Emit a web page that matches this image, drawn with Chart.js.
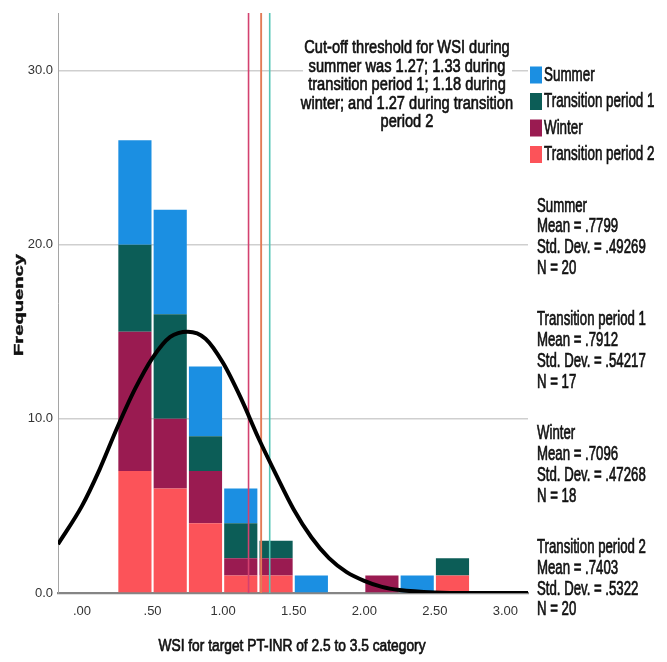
<!DOCTYPE html>
<html>
<head>
<meta charset="utf-8">
<title>WSI histogram</title>
<script src="https://cdn.jsdelivr.net/npm/chart.js@4"></script>
<style>
  html, body { margin: 0; padding: 0; background: #fff; }
  #wrap { width: 667px; height: 662px; }
</style>
</head>
<body>
<div id="wrap"><canvas id="chart" width="667" height="662"></canvas></div>
<script>
// ---- data ----
const binCenters = [0.375, 0.625, 0.875, 1.125, 1.375, 1.625, 1.875, 2.125, 2.375, 2.625];
const summerCounts = [6, 6, 4, 2, 0, 1, 0, 0, 1, 0];
const transition1Counts = [5, 6, 2, 2, 1, 0, 0, 0, 0, 1];
const winterCounts = [8, 4, 3, 1, 1, 0, 0, 1, 0, 0];
const transition2Counts = [7, 6, 4, 1, 1, 0, 0, 0, 0, 1];

const curveX = [-0.17, 0.0, 0.125, 0.25, 0.375, 0.5, 0.625, 0.75, 0.875, 1.0, 1.125, 1.25,
  1.375, 1.5, 1.625, 1.75, 1.875, 2.0, 2.125, 2.25, 2.5, 2.75, 3.0, 3.16];
const curveY = [2.8, 5.0, 7.1, 9.5, 11.7, 13.5, 14.7, 15.0, 14.6, 13.2, 11.2, 8.9,
  6.8, 4.8, 3.2, 2.0, 1.2, 0.7, 0.35, 0.17, 0.03, 0.0, 0.0, 0.0];

const groupNames = ['Summer', 'Transition period 1', 'Winter', 'Transition period 2'];
const groupMeans = [0.7799, 0.7912, 0.7096, 0.7403];
const groupStdDevs = [0.49269, 0.54217, 0.47268, 0.5322];
const groupNs = [20, 17, 18, 20];
const cutoffValues = [1.27, 1.33, 1.18, 1.27];

const yTickValues = [0, 10, 20, 30];
const xTickValues = [0, 0.5, 1, 1.5, 2, 2.5, 3];

const noteLines = [
  'Cut-off threshold for WSI during',
  'summer was 1.27; 1.33 during',
  'transition period 1; 1.18 during',
  'winter; and 1.27 during transition',
  'period 2',
];
const xTitle = 'WSI for target PT-INR of 2.5 to 3.5 category';
const yTitle = 'Frequency';

// ---- styling ----
const COLORS = {
  summer: '#1b8fe2',
  transition1: '#0c5d57',
  winter: '#9a1b51',
  transition2: '#fc5359',
  cutoff: ['#e27b57', '#55c5b7', '#d3416f', '#e27b57'],
  grid: '#cfcfcf',
  axis: '#858585',
  text: '#111',
};
const FONT = '"Liberation Sans", Arial, sans-serif';
const Y_MAX = 33.3;

function fmtDec(v) {
  return String(v).replace(/^0\./, '.');
}

// condensed text: Arial metrics squeezed horizontally, slightly heavier stroke
function narrowText(ctx, text, x, y, size, sx, align, weight, stroke) {
  ctx.save();
  ctx.translate(x, y);
  ctx.scale(sx, 1);
  ctx.font = (weight || 'normal') + ' ' + size + 'px ' + FONT;
  ctx.textAlign = align || 'left';
  ctx.textBaseline = 'middle';
  ctx.fillStyle = COLORS.text;
  ctx.fillText(text, 0, 0);
  if (stroke !== 0) {
    ctx.strokeStyle = COLORS.text;
    ctx.lineWidth = stroke || 0.7;
    ctx.strokeText(text, 0, 0);
  }
  ctx.restore();
}

function barSet(label, counts, color) {
  return {
    type: 'bar',
    label,
    data: binCenters.map((c, i) => ({ x: c, y: counts[i] })),
    backgroundColor: color,
    borderWidth: 0,
    barPercentage: 0.94,
    categoryPercentage: 1,
  };
}

// bottom -> top stacking order
const barDatasets = [
  barSet('Transition period 2', transition2Counts, COLORS.transition2),
  barSet('Winter', winterCounts, COLORS.winter),
  barSet('Transition period 1', transition1Counts, COLORS.transition1),
  barSet('Summer', summerCounts, COLORS.summer),
];

const cutoffDatasets = cutoffValues.map((v, i) => ({
  type: 'line',
  label: 'cutoff ' + groupNames[i],
  data: [{ x: v, y: 0 }, { x: v, y: Y_MAX }],
  borderColor: COLORS.cutoff[i],
  borderWidth: 1.6,
  pointRadius: 0,
  stack: 'cut' + i,
  order: -1,
}));

const curveDataset = {
  type: 'line',
  label: 'normal',
  data: curveX.map((x, i) => ({ x, y: curveY[i] })),
  borderColor: '#000',
  borderWidth: 4,
  pointRadius: 0,
  cubicInterpolationMode: 'monotone',
  stack: 'curve',
  order: -2,
};

// Text, legend and stats drawn around the plot
const annotationPlugin = {
  id: 'annotations',
  afterDraw(chart) {
    const ctx = chart.ctx;

    // note box (opaque, hides the 30.0 grid line)
    ctx.save();
    ctx.fillStyle = '#fff';
    ctx.fillRect(303, 38, 209, 94);
    ctx.restore();
    noteLines.forEach((line, i) => {
      narrowText(ctx, line, 407, 48 + i * 18.5, 19, 0.77, 'center');
    });

    // legend, top to bottom: reverse of stacking order
    const legendItems = barDatasets.slice().reverse();
    legendItems.forEach((ds, i) => {
      const cy = 75 + i * 26.5;
      ctx.fillStyle = ds.backgroundColor;
      ctx.fillRect(530, cy - 8.5, 12, 17);
      narrowText(ctx, ds.label, 544, cy, 20, 0.67, 'left');
    });

    // group statistics
    groupNames.forEach((name, g) => {
      const lines = [
        name,
        'Mean = ' + fmtDec(groupMeans[g]),
        'Std. Dev. = ' + fmtDec(groupStdDevs[g]),
        'N = ' + groupNs[g],
      ];
      lines.forEach((line, i) => {
        narrowText(ctx, line, 537, 206 + g * 113.8 + i * 20.8, 20, 0.66, 'left');
      });
    });

    // axis titles
    narrowText(ctx, xTitle, 292, 646, 17, 0.81, 'center');
    ctx.save();
    ctx.translate(19, 305);
    ctx.rotate(-Math.PI / 2);
    narrowText(ctx, yTitle, 0, 0, 13, 1.55, 'center', 'bold', 0.4);
    ctx.restore();
  },
};

new Chart(document.getElementById('chart'), {
  data: {
    datasets: [curveDataset, ...cutoffDatasets, ...barDatasets],
  },
  options: {
    responsive: false,
    animation: false,
    layout: { padding: { top: 13, right: 139, left: 0, bottom: 0 } },
    plugins: {
      legend: { display: false },
      tooltip: { enabled: false },
    },
    scales: {
      x: {
        type: 'linear',
        min: -0.17,
        max: 3.16,
        stacked: true,
        offset: false,
        grid: { display: false, drawTicks: false, offset: false },
        border: { display: true, color: COLORS.axis, width: 2.2 },
        afterBuildTicks: (scale) => { scale.ticks = xTickValues.map(v => ({ value: v })); },
        afterFit: (scale) => { scale.height = 69; },
        ticks: {
          padding: 11,
          color: '#333',
          font: { family: FONT, size: 13 },
          callback: (v) => fmtDec(Number(v).toFixed(2)),
          maxRotation: 0,
          autoSkip: false,
        },
      },
      y: {
        min: 0,
        max: Y_MAX,
        stacked: true,
        grid: {
          drawTicks: false,
          lineWidth: 1.5,
          color: (c) => (c.tick && c.tick.value === 0 ? 'rgba(0,0,0,0)' : COLORS.grid),
        },
        border: { display: true, color: '#a5a5a5', width: 1 },
        afterBuildTicks: (scale) => { scale.ticks = yTickValues.map(v => ({ value: v })); },
        afterFit: (scale) => { scale.width = 58; },
        ticks: {
          padding: 5,
          color: '#333',
          font: { family: FONT, size: 13 },
          callback: (v) => Number(v).toFixed(1),
        },
      },
    },
  },
  plugins: [annotationPlugin],
});
</script>
</body>
</html>
